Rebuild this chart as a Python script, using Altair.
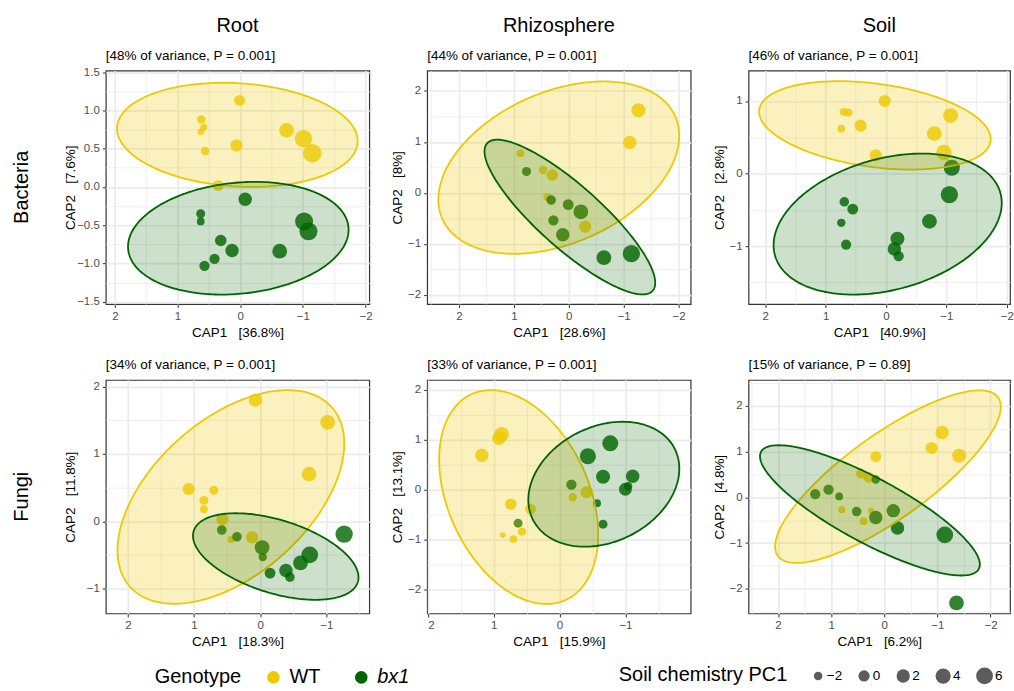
import math
import numpy as np
import pandas as pd
import altair as alt

FONT = "Liberation Sans"
WT_COLOR = "#EEC900"
BX1_COLOR = "#006400"
GENOTYPES = ["WT", "bx1"]

COLUMN_TITLES = ["Root", "Rhizosphere", "Soil"]
ROW_TITLES = ["Bacteria", "Fungi"]
VARIANCE = [
    "[48% of variance, P = 0.001]", "[44% of variance, P = 0.001]", "[46% of variance, P = 0.001]",
    "[34% of variance, P = 0.001]", "[33% of variance, P = 0.001]", "[15% of variance, P = 0.89]",
]
CAP1_PCT = ["36.8%", "28.6%", "40.9%", "18.3%", "15.9%", "6.2%"]
CAP2_PCT = ["7.6%", "8%", "2.8%", "11.8%", "13.1%", "4.8%"]

X_DOMAINS = [[-2.06, 2.145], [-2.22, 2.58], [-2.054, 2.276], [-1.65, 2.333], [-1.99, 2.01], [-2.368, 2.556]]
Y_DOMAINS = [[-1.53, 1.52], [-2.18, 2.40], [-1.80, 1.42], [-1.37, 2.10], [-2.48, 2.20], [-2.54, 2.57]]
Y_STEPS = [0.5, 1, 1, 1, 1, 1]
Y_FORMATS = [".1f", ".0f", ".0f", ".0f", ".0f", ".0f"]
SIZE_LEGEND_VALUES = [-2, 0, 2, 4, 6]

# ---- sample scores, one list per panel (Root/Rhizosphere/Soil bacteria, then fungi) ----
WT_CAP1 = [
    [0.01, 0.62, 0.58, 0.63, 0.56, 0.06, -0.74, -1.01, -1.15, 0.35],
    [-1.27, -1.11, 0.88, 0.47, 0.30, 0.39, -0.30],
    [0.02, 0.70, 0.62, 0.74, 0.42, 0.17, -1.07, -0.80, -0.96],
    [0.07, -1.02, -0.74, 1.08, 0.70, 0.85, 0.85, 0.57, 0.12, 0.44],
    [0.88, 0.92, 1.18, 0.74, 0.44, 0.86, 0.70, 0.57, -0.20, -0.41],
    [-1.09, -0.89, -1.41, 0.16, 0.44, 0.29, 0.80, 0.25, 0.39],
]
WT_CAP2 = [
    [1.13, 0.88, 0.78, 0.72, 0.47, 0.54, 0.74, 0.63, 0.44, 0.02],
    [1.62, 0.99, 0.78, 0.45, 0.35, -0.08, -0.66],
    [1.00, 0.85, 0.84, 0.62, 0.66, 0.25, 0.80, 0.55, 0.29],
    [1.80, 1.47, 0.70, 0.48, 0.46, 0.31, 0.18, 0.03, -0.24, -0.27],
    [1.11, 1.03, 0.69, -0.29, -0.39, -0.91, -0.99, -0.84, -0.15, -0.05],
    [1.42, 1.08, 0.91, 0.89, 0.52, 0.44, -0.27, -0.29, -0.52],
]
WT_PC1 = [
    [-0.3, -2.1, -2.9, -3.2, -2.1, 0.9, 3.5, 6.7, 8.5, -0.3],
    [2.8, 2.1, -2.5, -2.1, 0.3, -2.5, 0.9],
    [0.9, -2.1, -2.1, -2.5, 0.9, 0.9, 3.5, 3.5, 4.3],
    [2.1, 3.5, 3.5, 0.9, -1.7, -1.7, -2.5, 0.9, 0.9, -2.9],
    [3.5, 2.1, 2.1, 0.3, -0.3, -3.5, -2.5, -2.1, -2.1, 0.9],
    [2.1, 0.9, 2.8, -0.3, -1.3, -0.3, -2.9, -3.5, -2.5],
]
BX1_CAP1 = [
    [-0.08, 0.63, 0.63, 0.31, 0.13, 0.41, 0.57, -0.63, -1.02, -1.09],
    [0.77, 0.32, 0.01, -0.22, 0.28, 0.11, -0.64, -1.14],
    [-1.09, -1.05, -0.72, 0.69, 0.55, 0.74, 0.66, -0.19, -0.14, -0.21],
    [0.58, 0.35, -0.03, -0.04, -0.15, -0.39, -0.45, -0.61, -0.75, -1.27],
    [-0.77, -0.43, -0.66, -1.11, -1.00, -1.04, -0.18, -0.57, -0.66, 0.63],
    [0.16, 1.30, 1.05, 0.85, 0.52, 0.16, -0.17, -0.25, -1.14, -1.36],
]
BX1_CAP2 = [
    [-0.16, -0.35, -0.45, -0.70, -0.83, -0.94, -1.03, -0.84, -0.45, -0.58],
    [0.42, -0.14, -0.23, -0.37, -0.54, -0.82, -1.27, -1.19],
    [0.08, -0.29, -0.66, -0.39, -0.49, -0.68, -0.98, -0.90, -1.04, -1.14],
    [-0.13, -0.23, -0.39, -0.53, -0.77, -0.73, -0.83, -0.62, -0.50, -0.19],
    [0.93, 0.67, 0.26, 0.27, 0.01, 0.07, 0.10, -0.27, -0.69, -0.67],
    [0.39, 0.07, 0.17, 0.02, -0.31, -0.44, -0.29, -0.67, -0.82, -2.31],
]
BX1_PC1 = [
    [2.1, -1.7, -2.5, 0.3, 2.1, -0.8, -0.8, 3.5, 7.6, 7.6],
    [-1.7, -1.3, -0.3, 3.5, -0.8, 2.1, 3.5, 6.7],
    [5.0, 6.7, 3.5, -1.3, -0.3, -2.1, -0.8, 2.8, 2.1, -0.8],
    [-1.3, -1.3, 3.5, -2.1, -0.3, 2.1, -1.3, 3.5, 5.9, 6.7],
    [5.0, 5.0, 2.8, 2.1, 1.5, -2.1, -0.8, -2.5, -1.7, -1.7],
    [-2.1, -0.8, -0.8, -2.5, -1.3, 2.1, 2.1, 2.1, 5.9, 3.5],
]

# ---- 95% ellipses: centre x, centre y, half-width, half-height, tilt (correlation) ----
ELLIPSE_WT = [
    [0.045, 0.68, 1.92, 0.68, 0.12],
    [0.182, 0.496, 2.194, 1.69, -0.37],
    [0.183, 0.664, 1.917, 0.609, 0.31],
    [0.442, 0.361, 1.714, 1.587, -0.50],
    [0.621, -0.147, 1.207, 2.143, 0.35],
    [-0.069, 0.454, 2.125, 1.888, -0.81],
]
ELLIPSE_BX1 = [
    [0.03, -0.67, 1.76, 0.736, -0.15],
    [-0.02, -0.473, 1.555, 1.517, 0.85],
    [-0.028, -0.697, 1.889, 0.972, -0.30],
    [-0.236, -0.524, 1.251, 0.643, 0.48],
    [-0.672, 0.11, 1.146, 1.252, -0.25],
    [0.27, -0.284, 2.07, 1.425, 0.83],
]

PANEL_W = [264, 264, 262]
PANEL_H = 234
Y_EXTENT = [25, 19.5, 19.5]
NBSP3 = "\u00a0\u00a0\u00a0"


def ellipse_frames(params):
    cx, cy, w, h, r = params
    s = math.sqrt(1 - r * r)
    t = np.linspace(0, np.pi, 121)
    area = pd.DataFrame({
        "cap1": cx + w * np.cos(t),
        "cap2": cy + h * (r * np.cos(t) - s * np.sin(t)),
        "cap2_hi": cy + h * (r * np.cos(t) + s * np.sin(t)),
    })
    t2 = np.linspace(0, 2 * np.pi, 241)
    line = pd.DataFrame({
        "t": t2,
        "cap1": cx + w * np.cos(t2),
        "cap2": cy + h * (r * np.cos(t2) + s * np.sin(t2)),
    })
    return area, line


def grid_axis(domain, step, fmt, title, extent=None):
    """Major ticks/labels every `step`, minor grid lines half-way between."""
    half = step / 2
    k0 = math.ceil(domain[0] / half - 1e-9)
    k1 = math.floor(domain[1] / half + 1e-9)
    vals = [round(k * half, 6) for k in range(k0, k1 + 1)]
    major = f"abs(datum.value / {step} - round(datum.value / {step})) < 0.001"
    kw = dict(
        values=vals, tickCount=200, format=fmt, labelOverlap=False,
        labelExpr=f"({major}) ? datum.label : ''", title=title,
        tickOpacity={"condition": {"test": major, "value": 1}, "value": 0},
        gridWidth={"condition": {"test": major, "value": 1.7}, "value": 0.8},
    )
    if extent is not None:
        kw.update(minExtent=extent, maxExtent=extent)
    return alt.Axis(**kw)


color_enc = alt.Color(
    "genotype:N",
    scale=alt.Scale(domain=GENOTYPES, range=[WT_COLOR, BX1_COLOR]),
    legend=alt.Legend(
        title="Genotype", orient="none", legendX=49, legendY=598, direction="horizontal",
        titleOrient="left", titleFontSize=20, labelFontSize=20, titleAnchor="middle",
        titleBaseline="middle", symbolType="circle", symbolSize=160, symbolStrokeWidth=0,
        symbolOpacity=1, titlePadding=22, labelOffset=6, columnPadding=30,
        labelFontStyle=alt.ExprRef("datum.label == 'bx1' ? 'italic' : 'normal'"),
    ),
)
size_enc = alt.Size(
    "pc1:Q",
    scale=alt.Scale(domain=[-3.6, 8.6], range=[32, 352], zero=False, nice=False),
    legend=alt.Legend(
        title="Soil chemistry PC1", orient="none", legendX=514, legendY=598, direction="horizontal",
        titleOrient="left", titleFontSize=20, labelFontSize=13.5, titleAnchor="middle",
        titleBaseline="middle", symbolType="circle", values=SIZE_LEGEND_VALUES,
        symbolFillColor="#333333", symbolStrokeWidth=0, titlePadding=24, labelOffset=2,
        columnPadding=15,
    ),
)


def panel(i):
    row, col = divmod(i, 3)
    xs = alt.Scale(domain=X_DOMAINS[i], reverse=True, nice=False, zero=False)
    ys = alt.Scale(domain=Y_DOMAINS[i], nice=False, zero=False)
    pts = pd.concat([
        pd.DataFrame({"cap1": WT_CAP1[i], "cap2": WT_CAP2[i], "pc1": WT_PC1[i], "genotype": "WT"}),
        pd.DataFrame({"cap1": BX1_CAP1[i], "cap2": BX1_CAP2[i], "pc1": BX1_PC1[i], "genotype": "bx1"}),
    ], ignore_index=True)
    layers = [
        alt.Chart(pts).mark_circle(opacity=0.8).encode(
            x=alt.X("cap1:Q", scale=xs,
                    axis=grid_axis(X_DOMAINS[i], 1, ".0f", f"CAP1{NBSP3}[{CAP1_PCT[i]}]")),
            y=alt.Y("cap2:Q", scale=ys,
                    axis=grid_axis(Y_DOMAINS[i], Y_STEPS[i], Y_FORMATS[i],
                                   f"CAP2{NBSP3}[{CAP2_PCT[i]}]", Y_EXTENT[col])),
            color=color_enc,
            size=size_enc,
        )
    ]
    for params, colr, fill_op in [(ELLIPSE_WT[i], WT_COLOR, 0.25), (ELLIPSE_BX1[i], BX1_COLOR, 0.2)]:
        area_df, line_df = ellipse_frames(params)
        layers.append(
            alt.Chart(area_df).mark_area(color=colr, opacity=fill_op, clip=True).encode(
                x="cap1:Q", y="cap2:Q", y2="cap2_hi:Q")
        )
        layers.append(
            alt.Chart(line_df).mark_line(color=colr, strokeWidth=1.8, clip=True).encode(
                x="cap1:Q", y="cap2:Q", order="t:Q")
        )
    layers.append(
        alt.Chart(pd.DataFrame({"label": [VARIANCE[i]]})).mark_text(
            align="left", baseline="middle", fontSize=13.5, font=FONT, color="black"
        ).encode(text="label:N", x=alt.value(0), y=alt.value(-15))
    )
    if row == 0:
        layers.append(
            alt.Chart(pd.DataFrame({"label": [COLUMN_TITLES[col]]})).mark_text(
                align="center", baseline="middle", fontSize=20, font=FONT, color="black"
            ).encode(text="label:N", x=alt.value(PANEL_W[col] / 2), y=alt.value(-44.5))
        )
    if col == 0:
        layers.append(
            alt.Chart(pd.DataFrame({"label": [ROW_TITLES[row]]})).mark_text(
                align="center", baseline="middle", fontSize=20, font=FONT, color="black", angle=270
            ).encode(text="label:N", x=alt.value(-84), y=alt.value(PANEL_H / 2))
        )
    return alt.layer(*layers).properties(width=PANEL_W[col], height=PANEL_H)


chart = alt.concat(
    *[panel(i) for i in range(6)], columns=3,
    spacing={"row": 76, "column": 58}, bounds="flush",
).properties(padding={"left": 11, "top": 14, "right": 0, "bottom": 0})
chart = (
    chart.configure(font=FONT)
    .configure_view(stroke="#333333", strokeWidth=1.2)
    .configure_axis(
        labelFont=FONT, labelFontSize=11.5, labelColor="#4D4D4D",
        titleFont=FONT, titleFontSize=13.5, titleFontWeight="normal", titleColor="black",
        tickColor="#333333", tickSize=3.5, tickWidth=1, labelPadding=3, domain=False,
        gridColor="#EBEBEB", titlePadding=3,
    )
    .configure_legend(
        labelFont=FONT, titleFont=FONT, titleFontWeight="normal", titleColor="black",
        labelColor="black",
    )
)
chart.save("out.html", embed_options={"renderer": "svg", "actions": False})
